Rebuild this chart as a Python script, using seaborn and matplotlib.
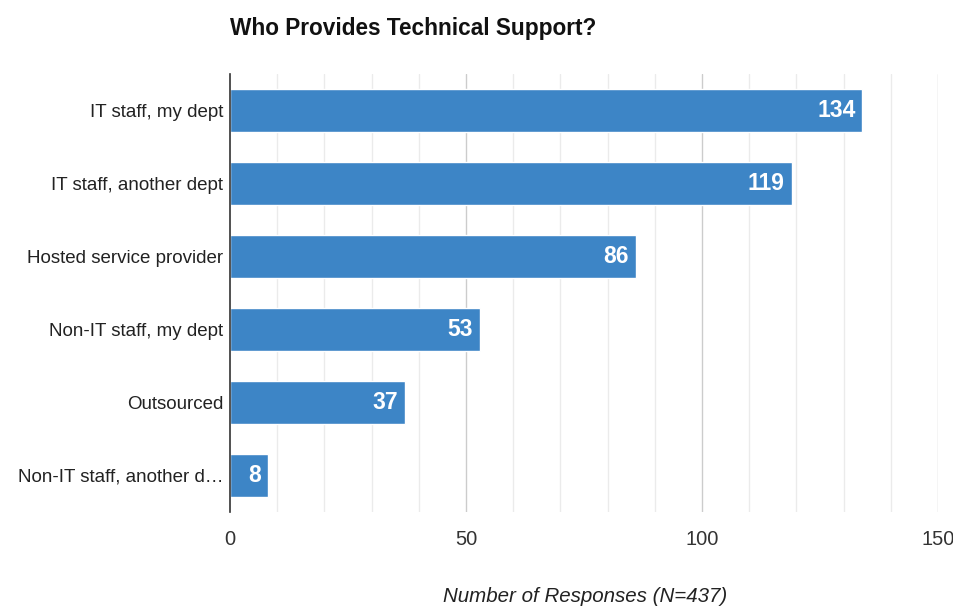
import matplotlib
matplotlib.use("Agg")
import matplotlib.pyplot as plt
import seaborn as sns
import pandas as pd

# data
categories = [
    "IT staff, my dept",
    "IT staff, another dept",
    "Hosted service provider",
    "Non-IT staff, my dept",
    "Outsourced",
    "Non-IT staff, another d\u2026",
]
responses = [134, 119, 86, 53, 37, 8]

BAR_COLOR = "#3d85c6"

sns.set_style("white")
plt.rcParams["font.family"] = ["Liberation Sans", "DejaVu Sans"]

df = pd.DataFrame({"category": categories, "responses": responses})

fig = plt.figure(figsize=(9.54, 6.07), dpi=100)
ax = fig.add_axes([230 / 954, 1 - 512 / 607, 708 / 954, 438 / 607])

sns.barplot(data=df, x="responses", y="category", color=BAR_COLOR,
            saturation=1, width=0.6, ax=ax, zorder=3)

ax.set_xlim(0, 150)
ax.set_ylim(5.5, -0.5)

# grid: light minor lines every 10, slightly darker majors every 50
for v in range(10, 151, 10):
    col = "#cccccc" if v % 50 == 0 else "#ebebeb"
    ax.axvline(v, color=col, lw=1, zorder=1)

ax.set_xticks([0, 50, 100, 150])
ax.tick_params(axis="x", length=0, pad=13, labelsize=14.5, labelcolor="#333333")
ax.tick_params(axis="y", length=0, pad=5, labelsize=13.5, labelcolor="#222222")

for s in ["top", "right", "bottom"]:
    ax.spines[s].set_visible(False)
ax.spines["left"].set_color("#333333")
ax.spines["left"].set_linewidth(1.2)
ax.spines["left"].set_zorder(4)

ax.set_ylabel("")
ax.set_xlabel("")

# value labels inside bar ends
for i, v in enumerate(responses):
    ax.text(v - 1.5, i, str(v), ha="right", va="center", color="white",
            fontsize=16.5, fontweight="bold", zorder=5)

fig.text(230 / 954, 1 - 28 / 607, "Who Provides Technical Support?",
         fontsize=16.3, fontweight="bold", ha="left", va="center", color="#111111")
fig.text(585 / 954, 1 - 597 / 607, "Number of Responses (N=437)",
         fontsize=14.8, style="italic", ha="center", va="center", color="#222222")

fig.savefig("out.png", dpi=100, facecolor="white")
